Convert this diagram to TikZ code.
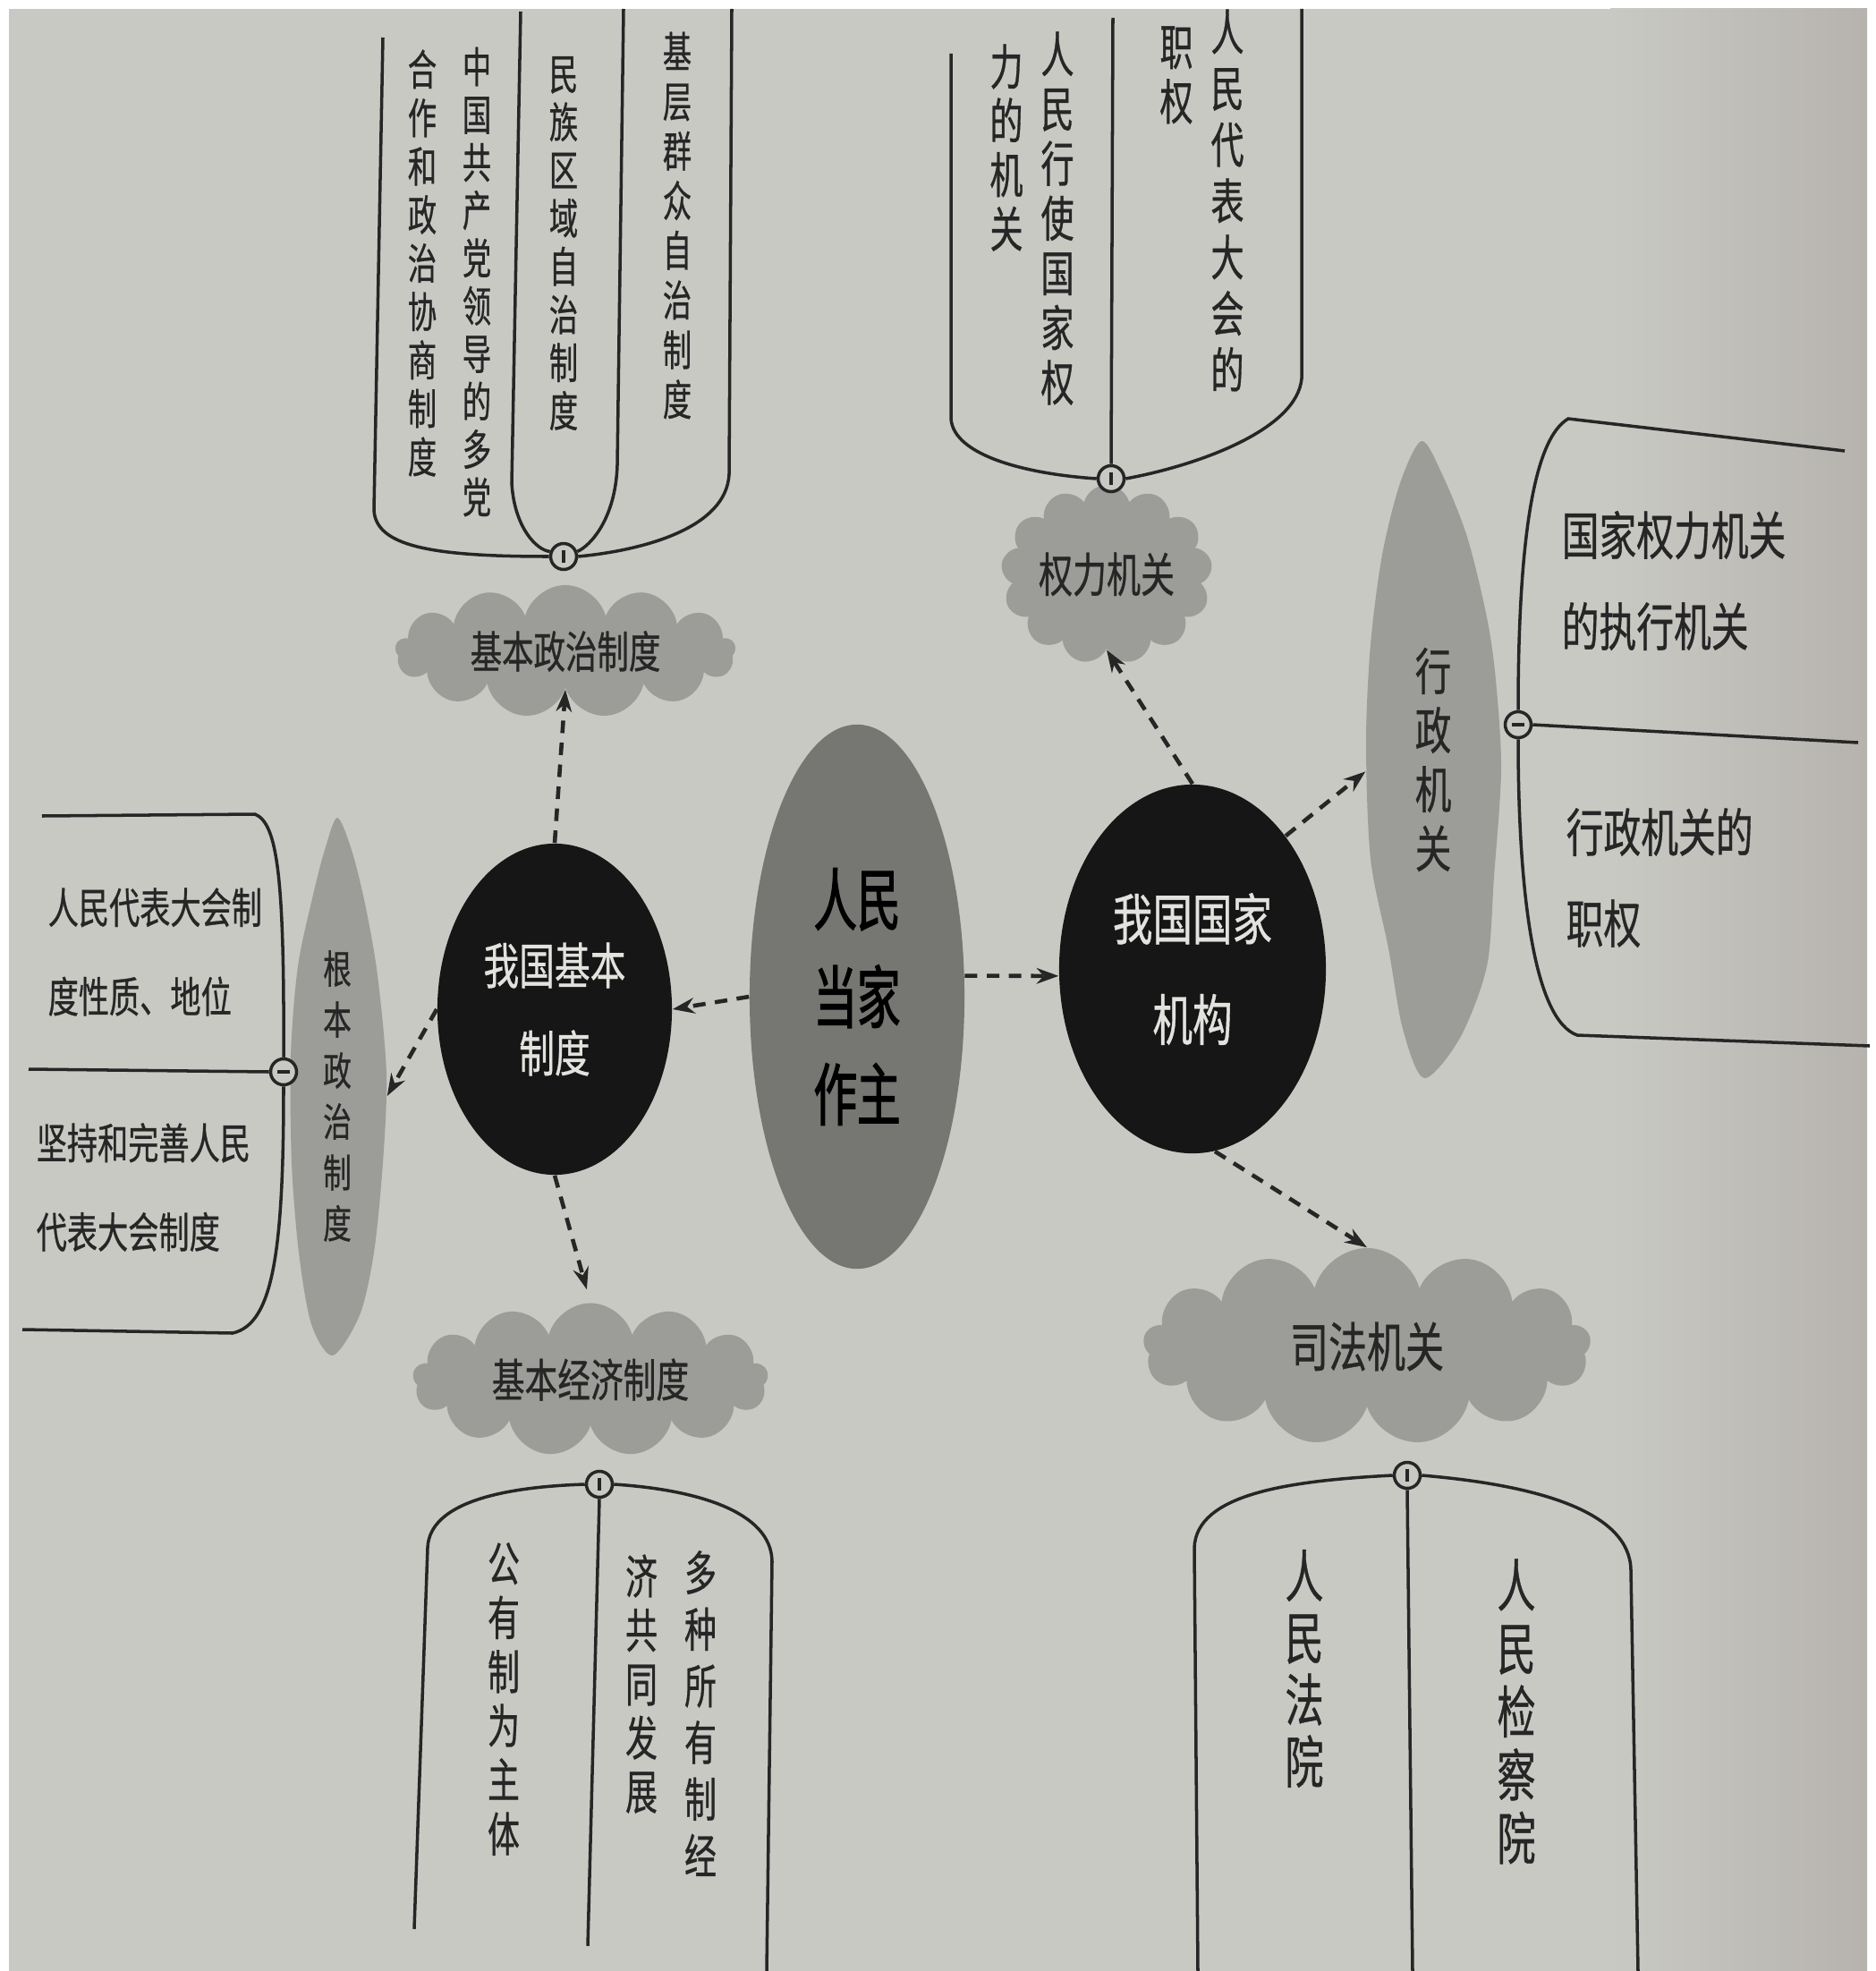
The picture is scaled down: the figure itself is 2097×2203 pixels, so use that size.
\documentclass[tikz,border=0pt]{standalone}
\usepackage{fontspec}
\newfontfamily\cjk[FakeStretch=0.72,FakeBold=0.6]{Noto Sans CJK SC}
\newfontfamily\cjkv[FakeStretch=0.68,FakeBold=0.6]{Noto Sans CJK SC}
\newfontfamily\cjkb[FakeStretch=0.64,FakeBold=1.6]{Noto Sans CJK SC}
\usetikzlibrary{shapes.geometric,shapes.symbols,arrows.meta}
\definecolor{paper}{RGB}{201,201,196}
\definecolor{paperdk}{RGB}{182,179,174}
\definecolor{cloudgray}{RGB}{156,156,153}
\definecolor{midgray}{RGB}{118,118,115}
\definecolor{ink}{RGB}{38,38,38}
\definecolor{circblack}{RGB}{22,22,22}
\definecolor{inkw}{RGB}{226,226,222}
\begin{document}
\begin{tikzpicture}[x=0.01cm,y=-0.01cm,
  vtext/.style={align=center,inner sep=0pt,text=ink},
  htext/.style={align=left,inner sep=0pt,text=ink,anchor=west},
  brk/.style={draw=ink,line width=1pt},
  arr/.style={draw=ink,line width=1.3pt,dash pattern=on 4pt off 3pt,-{Stealth[length=7pt,width=5pt]}},
  cloudnode/.style={cloud,cloud puffs=13,cloud puff arc=150,cloud ignores aspect,fill=cloudgray,draw=none,text=ink,inner sep=0pt},
  blobnode/.style={ellipse,inner sep=0pt,text=ink,align=center},
  markerbase/.style={circle,draw=ink,line width=1pt,fill=paper,minimum size=0.29cm,inner sep=0pt},
  markerv/.style={markerbase,path picture={\draw[ink,line width=1pt] ([yshift=0.07cm]path picture bounding box.center) -- ([yshift=-0.07cm]path picture bounding box.center);}},
  markerh/.style={markerbase,path picture={\draw[ink,line width=1pt] ([xshift=-0.07cm]path picture bounding box.center) -- ([xshift=0.07cm]path picture bounding box.center);}},
  ]
\useasboundingbox (0,0) rectangle (2097,2203);
% background
\fill[white] (0,0) rectangle (2097,2203);
\fill[paper] (10,10) rectangle (2087,2203);
\shade[left color=paper,right color=paperdk] (1800,10) rectangle (2087,2203);

% irregular blobs
\fill[cloudgray] plot[smooth cycle] coordinates {(1589,493) (1612,530) (1640,600) (1662,690) (1672,760) (1678,860) (1670,980) (1662,1080) (1632,1160) (1592,1205) (1568,1150) (1552,1060) (1532,960) (1527,830) (1532,720) (1545,620) (1565,540)};
\fill[cloudgray] plot[smooth cycle] coordinates {(377,914) (393,950) (408,1010) (422,1090) (432,1200) (428,1300) (418,1400) (402,1470) (372,1515) (348,1480) (334,1400) (326,1300) (325,1180) (333,1080) (350,1000) (363,950)};

% clouds
\node[cloudnode,minimum width=3.8cm,minimum height=1.48cm,font=\cjk\fontsize{14}{16}\selectfont] (jbzz) at (632,728) {基本政治制度};
\node[cloudnode,minimum width=2.36cm,minimum height=2.0cm,font=\cjk\fontsize{15}{17}\selectfont] (qljg) at (1237,642) {权力机关};
\node[cloudnode,minimum width=3.97cm,minimum height=1.71cm,font=\cjk\fontsize{14.5}{17}\selectfont] (jjzd) at (660,1542) {基本经济制度};
\node[cloudnode,minimum width=5.0cm,minimum height=2.2cm,font=\cjk\fontsize{17}{19}\selectfont] (sfjg) at (1528,1505) {司法机关};
\node[blobnode,minimum width=1.5cm,minimum height=7.1cm,font=\cjk\fontsize{16}{18.8}\selectfont] (xzjg) at (1602,849) {行\\政\\机\\关};
\node[blobnode,minimum width=1.1cm,minimum height=6.0cm,font=\cjk\fontsize{12.5}{16.2}\selectfont] (gbzz) at (377,1225) {根\\本\\政\\治\\制\\度};

% main nodes
\node[ellipse,fill=midgray,minimum width=2.4cm,minimum height=6.08cm,inner sep=0pt,align=center,text=black,font=\cjkb\fontsize{21.6}{31}\selectfont] (rmdz) at (958,1114) {人民\\当家\\作主};
\node[ellipse,fill=circblack,minimum width=2.62cm,minimum height=3.7cm,inner sep=0pt,align=center,text=inkw,font=\cjk\fontsize{15.7}{27.9}\selectfont] (jbzd) at (620,1128) {我国基本\\制度};
\node[ellipse,fill=circblack,minimum width=2.98cm,minimum height=4.12cm,inner sep=0pt,align=center,text=inkw,font=\cjk\fontsize{17.6}{32}\selectfont] (gjjg) at (1333,1083) {我国国家\\机构};

% markers
\node[markerv] (m1) at (630,622) {};
\node[markerv] (m2) at (1242,535) {};
\node[markerh] (m3) at (1697,810) {};
\node[markerh] (m4) at (317,1198) {};
\node[markerv] (m5) at (670,1659) {};
\node[markerv] (m6) at (1573,1649) {};

% brackets
\draw[brk] (428,42) -- (418,570) .. controls (420,610) and (480,622) .. (m1.west);
\draw[brk] (582,13) -- (572,540) .. controls (575,590) and (600,615) .. (m1.160);
\draw[brk] (697,10) -- (690,520) .. controls (688,580) and (660,610) .. (m1.20);
\draw[brk] (818,10) -- (815,530) .. controls (812,590) and (720,615) .. (m1.east);

\draw[brk] (1063,60) -- (1063,468) .. controls (1066,510) and (1150,530) .. (m2.west);
\draw[brk] (1244,20) -- (m2.north);
\draw[brk] (1455,10) -- (1455,423) .. controls (1450,480) and (1340,520) .. (m2.east);

\draw[brk] (2062,504) -- (1753,468) .. controls (1715,490) and (1697,600) .. (m3.north);
\draw[brk] (m3.east) -- (2077,830);
\draw[brk] (m3.south) .. controls (1697,1000) and (1715,1140) .. (1763,1157) -- (2090,1169);

\draw[brk] (47,912) -- (285,910) .. controls (310,920) and (318,980) .. (m4.north);
\draw[brk] (32,1195) -- (m4.west);
\draw[brk] (m4.south) .. controls (317,1400) and (305,1480) .. (260,1490) -- (25,1486);

\draw[brk] (m5.west) .. controls (560,1662) and (480,1680) .. (478,1730) -- (463,2156);
\draw[brk] (m5.south) -- (657,2175);
\draw[brk] (m5.east) .. controls (780,1665) and (862,1690) .. (863,1745) -- (857,2203);

\draw[brk] (m6.west) .. controls (1440,1655) and (1337,1670) .. (1335,1730) -- (1339,2203);
\draw[brk] (m6.south) -- (1579,2203);
\draw[brk] (m6.east) .. controls (1720,1660) and (1822,1690) .. (1823,1755) -- (1831,2203);

% vertical texts, top-left
\node[vtext,font=\cjkv\fontsize{13.5}{15.8}\selectfont] (a1) at (757,252) {基\\层\\群\\众\\自\\治\\制\\度};
\node[vtext,font=\cjkv\fontsize{13.5}{15.3}\selectfont] (a2) at (630,272) {民\\族\\区\\域\\自\\治\\制\\度};
\node[vtext,font=\cjkv\fontsize{13.5}{15.2}\selectfont] (a3) at (533,315) {中\\国\\共\\产\\党\\领\\导\\的\\多\\党};
\node[vtext,font=\cjkv\fontsize{13.5}{15.4}\selectfont] (a4) at (472,294) {合\\作\\和\\政\\治\\协\\商\\制\\度};
% top-right
\node[vtext,font=\cjkv\fontsize{15.5}{17.9}\selectfont] (b1) at (1372,224) {人\\民\\代\\表\\大\\会\\的};
\node[vtext,font=\cjkv\fontsize{15.5}{17.4}\selectfont] (b2) at (1315,84) {职\\权};
\node[vtext,font=\cjkv\fontsize{15.5}{17.4}\selectfont] (b3) at (1182,244) {人\\民\\行\\使\\国\\家\\权};
\node[vtext,font=\cjkv\fontsize{15.5}{17.2}\selectfont] (b4) at (1125,165) {力\\的\\机\\关};
% bottom-left
\node[vtext,font=\cjkv\fontsize{15}{17.2}\selectfont] (c1) at (563,1899) {公\\有\\制\\为\\主\\体};
\node[vtext,font=\cjkv\fontsize{15}{18}\selectfont] (c2) at (783,1915) {多\\种\\所\\有\\制\\经};
\node[vtext,font=\cjkv\fontsize{15}{17.1}\selectfont] (c3) at (717,1882) {济\\共\\同\\发\\展};
% bottom-right
\node[vtext,font=\cjkv\fontsize{18}{19.7}\selectfont] (d1) at (1458,1865) {人\\民\\法\\院};
\node[vtext,font=\cjkv\fontsize{18}{20.1}\selectfont] (d2) at (1695,1913) {人\\民\\检\\察\\院};

% horizontal texts
\node[htext,font=\cjk\fontsize{16.5}{29}\selectfont] (t31) at (1745,649) {国家权力机关\\的执行机关};
\node[htext,font=\cjk\fontsize{16.5}{29}\selectfont] (t32) at (1750,981) {行政机关的\\职权};
\node[htext,font=\cjk\fontsize{13.5}{28.3}\selectfont] (t41) at (53,1064) {人民代表大会制\\度性质、地位};
\node[htext,font=\cjk\fontsize{13.5}{28.3}\selectfont] (t42) at (40,1327) {坚持和完善人民\\代表大会制度};

% arrows
\draw[arr] (rmdz.west) -- (jbzd.east);
\draw[arr] (rmdz.11) -- (gjjg.183);
\draw[arr] (jbzd.north) -- (jbzz.south);
\draw[arr] (jbzd.west) -- (gbzz.east);
\draw[arr,shorten >=0.15cm] (jbzd.south) -- (jjzd.north);
\draw[arr] (gjjg.north) -- (qljg.south);
\draw[arr] (gjjg.55) -- (xzjg.190);
\draw[arr] (gjjg.-83) -- (sfjg.north);
\end{tikzpicture}
\end{document}
